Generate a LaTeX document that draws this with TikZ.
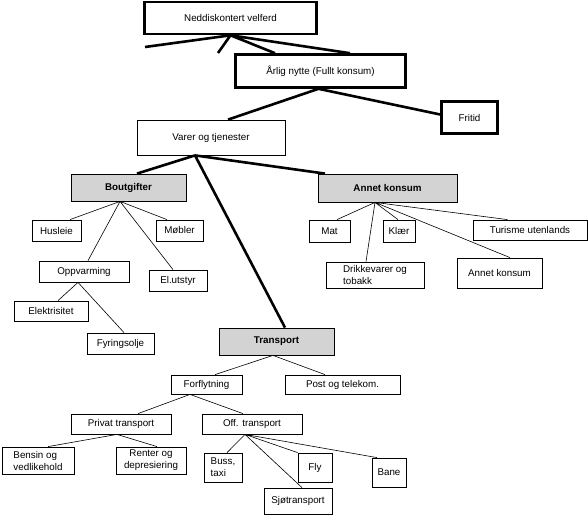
\documentclass[tikz,border=0pt]{standalone}
\usepackage{fontspec}
\setmainfont{Liberation Sans}
\definecolor{boxgray}{RGB}{211,211,211}

\tikzset{
  box/.style={draw, rectangle, line width=0.8pt, inner sep=0pt, align=center,
    font=\fontsize{9.8}{12}\selectfont},
  topbox/.style={box, line width=2.6pt},
  graybox/.style={box, fill=boxgray, font=\fontsize{9.8}{12}\selectfont\bfseries},
  wh/.style 2 args={minimum width=#1pt, minimum height=#2pt},
  thinlink/.style={line width=0.6pt},
  thicklink/.style={line width=2.6pt},
}

\begin{document}
\begin{tikzpicture}[x=1pt,y=-1pt]
    \useasboundingbox (0,0) rectangle (588,515);

    % top levels
    \node (nedd) at (230.5,18) [topbox,wh={172}{32}] {Neddiskontert velferd};
    \node (arlig) at (320.5,71) [topbox,wh={170}{33}] {Årlig nytte (Fullt konsum)};
    \node (fritid) at (469.5,117.5) [topbox,wh={56}{32}] {Fritid};
    \node (varer) at (211,137.5) [box,wh={148}{35}] {Varer og tjenester};

    \node (bout) at (128.5,187.5) [graybox,wh={115}{27}] {Boutgifter};
    \node (annet) at (387.5,188) [graybox,wh={139}{28}] {Annet konsum};
    \node (transp) at (276.5,341.5) [graybox,wh={115}{27}] {Transport};

    % boutgifter
    \node (husleie) at (56.5,230.5) [box,wh={49}{21}] {Husleie};
    \node (mobler) at (179.5,230.5) [box,wh={47}{21}] {Møbler};
    \node (oppv) at (84,271.5) [box,wh={90}{21}] {Oppvarming};
    \node (elut) at (178,280.5) [box,wh={58}{21}] {El.utstyr};
    \node (elek) at (51,311) [box,wh={74}{20}] {Elektrisitet};
    \node (fyr) at (120.5,343.5) [box,wh={67}{21}] {Fyringsolje};

    % annet konsum
    \node (mat) at (329.5,231) [box,wh={41}{22}] {Mat};
    \node (klaer) at (399,231) [box,wh={32}{22}] {Klær};
    \node (turisme) at (530,230) [box,wh={114}{20}] {Turisme utenlands};
    \node (drikke) at (375,275) [box,wh={98}{26},align=left] {Drikkevarer og\\tobakk};
    \node (annetk) at (499.5,273) [box,wh={85}{30}] {Annet konsum};

    % transport
    \node (forfl) at (206.5,384.5) [box,wh={71}{19}] {Forflytning};
    \node (post) at (342.5,384.5) [box,wh={115}{19}] {Post og telekom.};
    \node (privat) at (121,424) [box,wh={100}{20}] {Privat transport};
    \node (off) at (252,424) [box,wh={100}{20}] {Off. transport};
    \node (bensin) at (38,460.5) [box,wh={72}{27},align=left] {Bensin og\\vedlikehold};
    \node (renter) at (151,460.5) [box,wh={70}{27}] {Renter og\\depresiering};
    \node (buss) at (223,467.5) [box,wh={38}{29},align=left] {Buss,\\taxi};
    \node (sjo) at (298,501) [box,wh={68}{26}] {Sjøtransport};
    \node (fly) at (315,467.5) [box,wh={34}{29}] {Fly};
    \node (bane) at (389,472.5) [box,wh={34}{29}] {Bane};

    \coordinate (cutL) at (145,47);
    \coordinate (cutM) at (218,53);

    \draw[thicklink]
    (nedd.south) to (cutL)
    (nedd.south) to (cutM)
    (nedd.south) to ([xshift=-45.5]arlig.north)
    (nedd.south) to ([xshift=29.5]arlig.north)
    ([xshift=-2]arlig.south) to ([xshift=17]varer.north)
    ([xshift=-2]arlig.south) to ([yshift=3]fritid.west)
    ([xshift=-16]varer.south) to ([xshift=8.5]bout.north)
    ([xshift=-16]varer.south) to ([xshift=8.5]transp.north)
    ([xshift=-16]varer.south) to ([xshift=-62.5]annet.north);

    \draw[thinlink]
    ([xshift=-8.5]bout.south) to ([xshift=13.5]husleie.north)
    ([xshift=-8.5]bout.south) to ([xshift=-12.5]mobler.north)
    ([xshift=-8.5]bout.south) to ([xshift=4]oppv.north)
    ([xshift=-8.5]bout.south) to ([xshift=-5]elut.north)
    ([xshift=-6]oppv.south) to ([xshift=7]elek.north)
    ([xshift=-6]oppv.south) to ([xshift=3.5]fyr.north);

    \draw[thinlink]
    ([xshift=-12.5]annet.south) to ([xshift=7.5]mat.north)
    ([xshift=-12.5]annet.south) to ([xshift=-9]drikke.north)
    ([xshift=-12.5]annet.south) to ([xshift=-1]klaer.north)
    ([xshift=-12.5]annet.south) to ([xshift=10.5]annetk.north)
    ([xshift=-12.5]annet.south) to ([xshift=-22.5]turisme.north);

    \draw[thinlink]
    ([xshift=-3.5]transp.south) to ([xshift=8.5]forfl.north)
    ([xshift=-3.5]transp.south) to ([xshift=-17.5]post.north)
    ([xshift=-16.5]forfl.south) to ([xshift=17]privat.north)
    ([xshift=-16.5]forfl.south) to ([xshift=-9]off.north)
    ([xshift=-4]privat.south) to ([xshift=10]bensin.north)
    ([xshift=-4]privat.south) to ([xshift=6]renter.north)
    ([xshift=-7]off.south) to ([xshift=4]buss.north)
    ([xshift=-7]off.south) to ([xshift=4]sjo.north)
    ([xshift=-7]off.south) to (fly.north west)
    ([xshift=-7]off.south) to ([xshift=-12]bane.north);
  \end{tikzpicture}
\end{document}
